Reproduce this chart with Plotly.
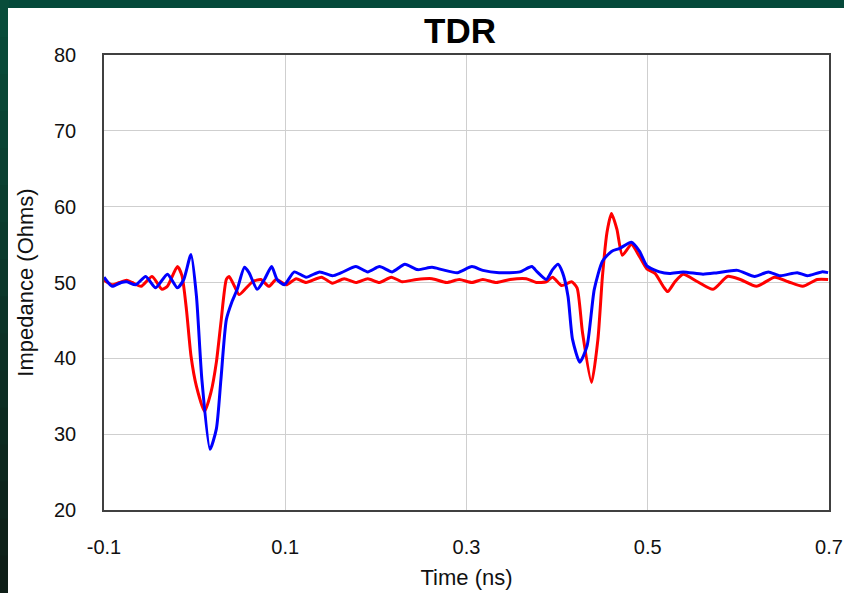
import plotly.graph_objects as go

# ---- data ----
red_t = [-0.100, -0.091, -0.083, -0.075, -0.069, -0.059, -0.047, -0.036, -0.030, -0.019,
         -0.014, -0.009, -0.004, 0.002, 0.011, 0.018, 0.024, 0.029, 0.035, 0.038,
         0.044, 0.049, 0.057, 0.064, 0.073, 0.082, 0.090, 0.101, 0.112, 0.123,
         0.140, 0.152, 0.165, 0.178, 0.191, 0.204, 0.217, 0.229, 0.245, 0.262,
         0.278, 0.292, 0.306, 0.318, 0.333, 0.348, 0.366, 0.377, 0.388, 0.395,
         0.405, 0.416, 0.422, 0.428, 0.438, 0.445, 0.450, 0.455, 0.460, 0.466,
         0.472, 0.482, 0.491, 0.499, 0.508, 0.517, 0.522, 0.530, 0.539, 0.555,
         0.572, 0.588, 0.602, 0.620, 0.640, 0.655, 0.671, 0.687, 0.699]
red_z = [50.3, 49.7, 50.0, 50.3, 50.0, 49.5, 50.8, 49.1, 49.5, 52.1,
         50.9, 46.4, 40.3, 36.3, 33.0, 35.5, 39.5, 44.7, 50.4, 50.8,
         49.5, 48.4, 49.3, 50.1, 50.4, 49.5, 50.4, 49.7, 50.5, 50.0,
         50.7, 49.9, 50.5, 50.0, 50.5, 50.0, 50.7, 50.1, 50.4, 50.5,
         50.0, 50.4, 50.0, 50.4, 50.0, 50.4, 50.5, 50.0, 50.1, 50.7,
         49.6, 50.1, 49.3, 43.4, 36.8, 42.5, 50.8, 56.6, 59.1, 57.0,
         53.6, 55.0, 53.4, 51.8, 51.2, 49.5, 48.8, 50.1, 51.1, 50.1,
         49.1, 50.8, 50.4, 49.5, 50.7, 50.1, 49.5, 50.4, 50.4]

blue_t = [-0.100, -0.091, -0.081, -0.075, -0.065, -0.054, -0.043, -0.030, -0.019, -0.012,
          -0.004, 0.002, 0.008, 0.017, 0.024, 0.029, 0.035, 0.041, 0.047, 0.055,
          0.060, 0.069, 0.077, 0.085, 0.091, 0.099, 0.110, 0.123, 0.138, 0.152,
          0.162, 0.178, 0.191, 0.204, 0.218, 0.232, 0.246, 0.262, 0.273, 0.290,
          0.306, 0.318, 0.336, 0.359, 0.372, 0.378, 0.388, 0.395, 0.401, 0.406,
          0.412, 0.417, 0.425, 0.433, 0.441, 0.450, 0.460, 0.469, 0.482, 0.491,
          0.499, 0.513, 0.524, 0.539, 0.561, 0.577, 0.599, 0.618, 0.633, 0.646,
          0.665, 0.676, 0.692, 0.699]
blue_z = [50.7, 49.5, 50.0, 50.1, 49.7, 50.8, 49.3, 51.1, 49.3, 50.4,
          53.7, 48.2, 37.2, 28.0, 30.7, 37.2, 45.1, 47.4, 49.1, 52.0,
          51.3, 49.1, 50.4, 52.1, 50.4, 49.7, 51.4, 50.7, 51.4, 50.9,
          51.3, 52.1, 51.4, 52.1, 51.4, 52.4, 51.7, 52.0, 51.7, 51.3,
          52.1, 51.6, 51.3, 51.4, 52.1, 51.4, 50.4, 51.7, 52.4, 51.3,
          48.2, 42.5, 39.5, 41.6, 49.1, 52.8, 54.1, 54.5, 55.3, 54.1,
          52.2, 51.4, 51.2, 51.4, 51.1, 51.3, 51.6, 50.8, 51.4, 50.9,
          51.3, 50.9, 51.4, 51.3]

x_ticks = [-0.1, 0.1, 0.3, 0.5, 0.7]
x_tick_labels = ["-0.1", "0.1", "0.3", "0.5", "0.7"]
y_ticks = [20, 30, 40, 50, 60, 70, 80]

FONT = "Liberation Sans, Arial, sans-serif"

fig = go.Figure()
fig.add_trace(go.Scatter(x=red_t, y=red_z, mode="lines",
                         line=dict(color="#ff0000", width=3, shape="spline", smoothing=0.6),
                         showlegend=False))
fig.add_trace(go.Scatter(x=blue_t, y=blue_z, mode="lines",
                         line=dict(color="#0000ff", width=3, shape="spline", smoothing=0.6),
                         showlegend=False))

# plot area in pixels: x 104..829, y 55..510
W, H = 844, 593
L, R, T, B = 104, 15, 55, 83
pw, ph = W - L - R, H - T - B

def px(x):
    return (x - L) / pw

def py(y):
    return (H - B - y) / ph

shapes = []
# left dark gradient strip
n = 16
top_c = (8, 76, 58)
bot_c = (14, 30, 23)
for i in range(n):
    f = i / (n - 1)
    c = tuple(int(round(top_c[k] + (bot_c[k] - top_c[k]) * f)) for k in range(3))
    shapes.append(dict(type="rect", xref="paper", yref="paper", layer="below",
                       x0=px(-1), x1=px(9), y0=py(i * H / n), y1=py((i + 1) * H / n + 1),
                       fillcolor="rgb(%d,%d,%d)" % c, line=dict(width=0)))
# white panel
shapes.append(dict(type="rect", xref="paper", yref="paper", layer="below",
                   x0=px(8), x1=px(W + 2), y0=py(8), y1=py(H + 2),
                   fillcolor="white", line=dict(width=0)))

fig.update_layout(
    width=W, height=H,
    margin=dict(l=L, r=R, t=T, b=B),
    paper_bgcolor="#05493a",
    plot_bgcolor="white",
    shapes=shapes,
    title=dict(text="<b>TDR</b>", xref="container", x=460 / W, xanchor="center",
               yref="container", y=1 - 31 / H, yanchor="middle",
               font=dict(family=FONT, size=35, color="black")),
    font=dict(family=FONT, color="#111111"),
    xaxis=dict(range=[-0.1, 0.7], tickvals=x_ticks, ticktext=x_tick_labels,
               showgrid=True, gridcolor="#cfcfcf", gridwidth=1,
               showline=True, linecolor="#404040", linewidth=1.5, mirror=True,
               zeroline=False, ticks="", ticklabelstandoff=18,
               tickfont=dict(family=FONT, size=20, color="#111111"),
               title=dict(text="Time (ns)", font=dict(family=FONT, size=22, color="#111111"),
                          standoff=13),
               automargin=False),
    yaxis=dict(range=[20, 80], tickvals=y_ticks,
               showgrid=True, gridcolor="#cfcfcf", gridwidth=1,
               showline=True, linecolor="#404040", linewidth=1.5, mirror=True,
               zeroline=False, ticks="", ticklabelstandoff=22,
               tickfont=dict(family=FONT, size=20, color="#111111"),
               title=dict(text="Impedance (Ohms)", font=dict(family=FONT, size=22, color="#111111"),
                          standoff=14),
               automargin=False),
)

fig.write_html("out.html", config={"displayModeBar": False},
               post_script="document.body.style.margin='0';document.body.style.overflow='hidden';")
